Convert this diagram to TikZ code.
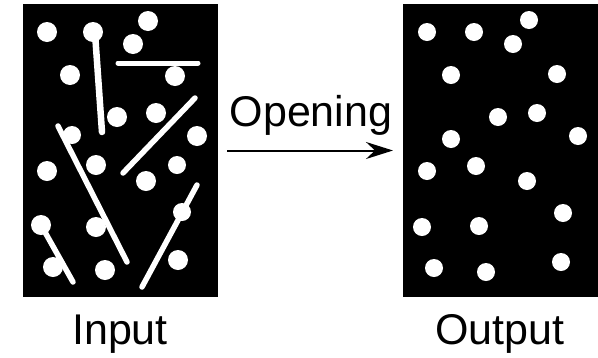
\documentclass[tikz,border=0pt]{standalone}
\usepackage{fontspec}
\newfontfamily\labelfont{Liberation Sans}
\usetikzlibrary{arrows.meta}
\begin{document}
\begin{tikzpicture}[x=1pt,y=-1pt]
\path[use as bounding box] (0,0) rectangle (598,357);
\node[fill=black,inner sep=0pt,outer sep=0pt,minimum width=195pt,minimum height=293pt,anchor=north west] (input) at (23,4) {};
\node[fill=black,inner sep=0pt,outer sep=0pt,minimum width=195pt,minimum height=293pt,anchor=north west] (output) at (403,4) {};
\draw[white,line width=6.5pt,line cap=round] (95,33) -- (102,132);
\draw[white,line width=5pt,line cap=round] (118,63) -- (198,63);
\draw[white,line width=5.5pt,line cap=round] (123,173) -- (195,98);
\draw[white,line width=5.5pt,line cap=round] (58,126) -- (127,262);
\draw[white,line width=5.5pt,line cap=round] (41,225) -- (73,282);
\draw[white,line width=5.5pt,line cap=round] (142,287) -- (197,185);
\fill[white] (47,32) circle (10);
\fill[white] (93,32) circle (10);
\fill[white] (148,21) circle (10);
\fill[white] (133,44) circle (10);
\fill[white] (70,75) circle (10);
\fill[white] (175,76) circle (10);
\fill[white] (117,117) circle (10);
\fill[white] (156,113) circle (10);
\fill[white] (197,136) circle (10);
\fill[white] (72,135) circle (9);
\fill[white] (47,171) circle (10);
\fill[white] (96,165) circle (10);
\fill[white] (177,165) circle (9);
\fill[white] (146,181) circle (10);
\fill[white] (41,225) circle (10);
\fill[white] (96,227) circle (10);
\fill[white] (182,212) circle (9);
\fill[white] (53,267) circle (10);
\fill[white] (105,270) circle (10);
\fill[white] (178,260) circle (10);
\fill[white] (427,32) circle (9);
\fill[white] (474,32) circle (9);
\fill[white] (529,20) circle (9);
\fill[white] (513,44) circle (9);
\fill[white] (451,75) circle (9);
\fill[white] (557,74) circle (9);
\fill[white] (498,117) circle (9);
\fill[white] (537,113) circle (9);
\fill[white] (578,136) circle (9);
\fill[white] (451,139) circle (9);
\fill[white] (427,171) circle (9);
\fill[white] (476,166) circle (9);
\fill[white] (527,181) circle (9);
\fill[white] (563,213) circle (9);
\fill[white] (422,227) circle (9);
\fill[white] (479,226) circle (9);
\fill[white] (434,268) circle (9);
\fill[white] (486,272) circle (9);
\fill[white] (561,262) circle (9);
\draw[line width=2pt,-{Stealth[length=27pt,width=17pt,inset=9pt]},shorten <=9pt,shorten >=10pt] (input) -- (output);
\node[inner sep=0pt,outer sep=0pt,anchor=base,font=\labelfont\fontsize{43}{51.6}\selectfont] (lblop) at (311,126) {Opening};
\node[inner sep=0pt,outer sep=0pt,anchor=base,font=\labelfont\fontsize{43}{51.6}\selectfont] (lblin) at (120,344) {Input};
\node[inner sep=0pt,outer sep=0pt,anchor=base,font=\labelfont\fontsize{43}{51.6}\selectfont] (lblout) at (500,344) {Output};
\end{tikzpicture}
\end{document}
